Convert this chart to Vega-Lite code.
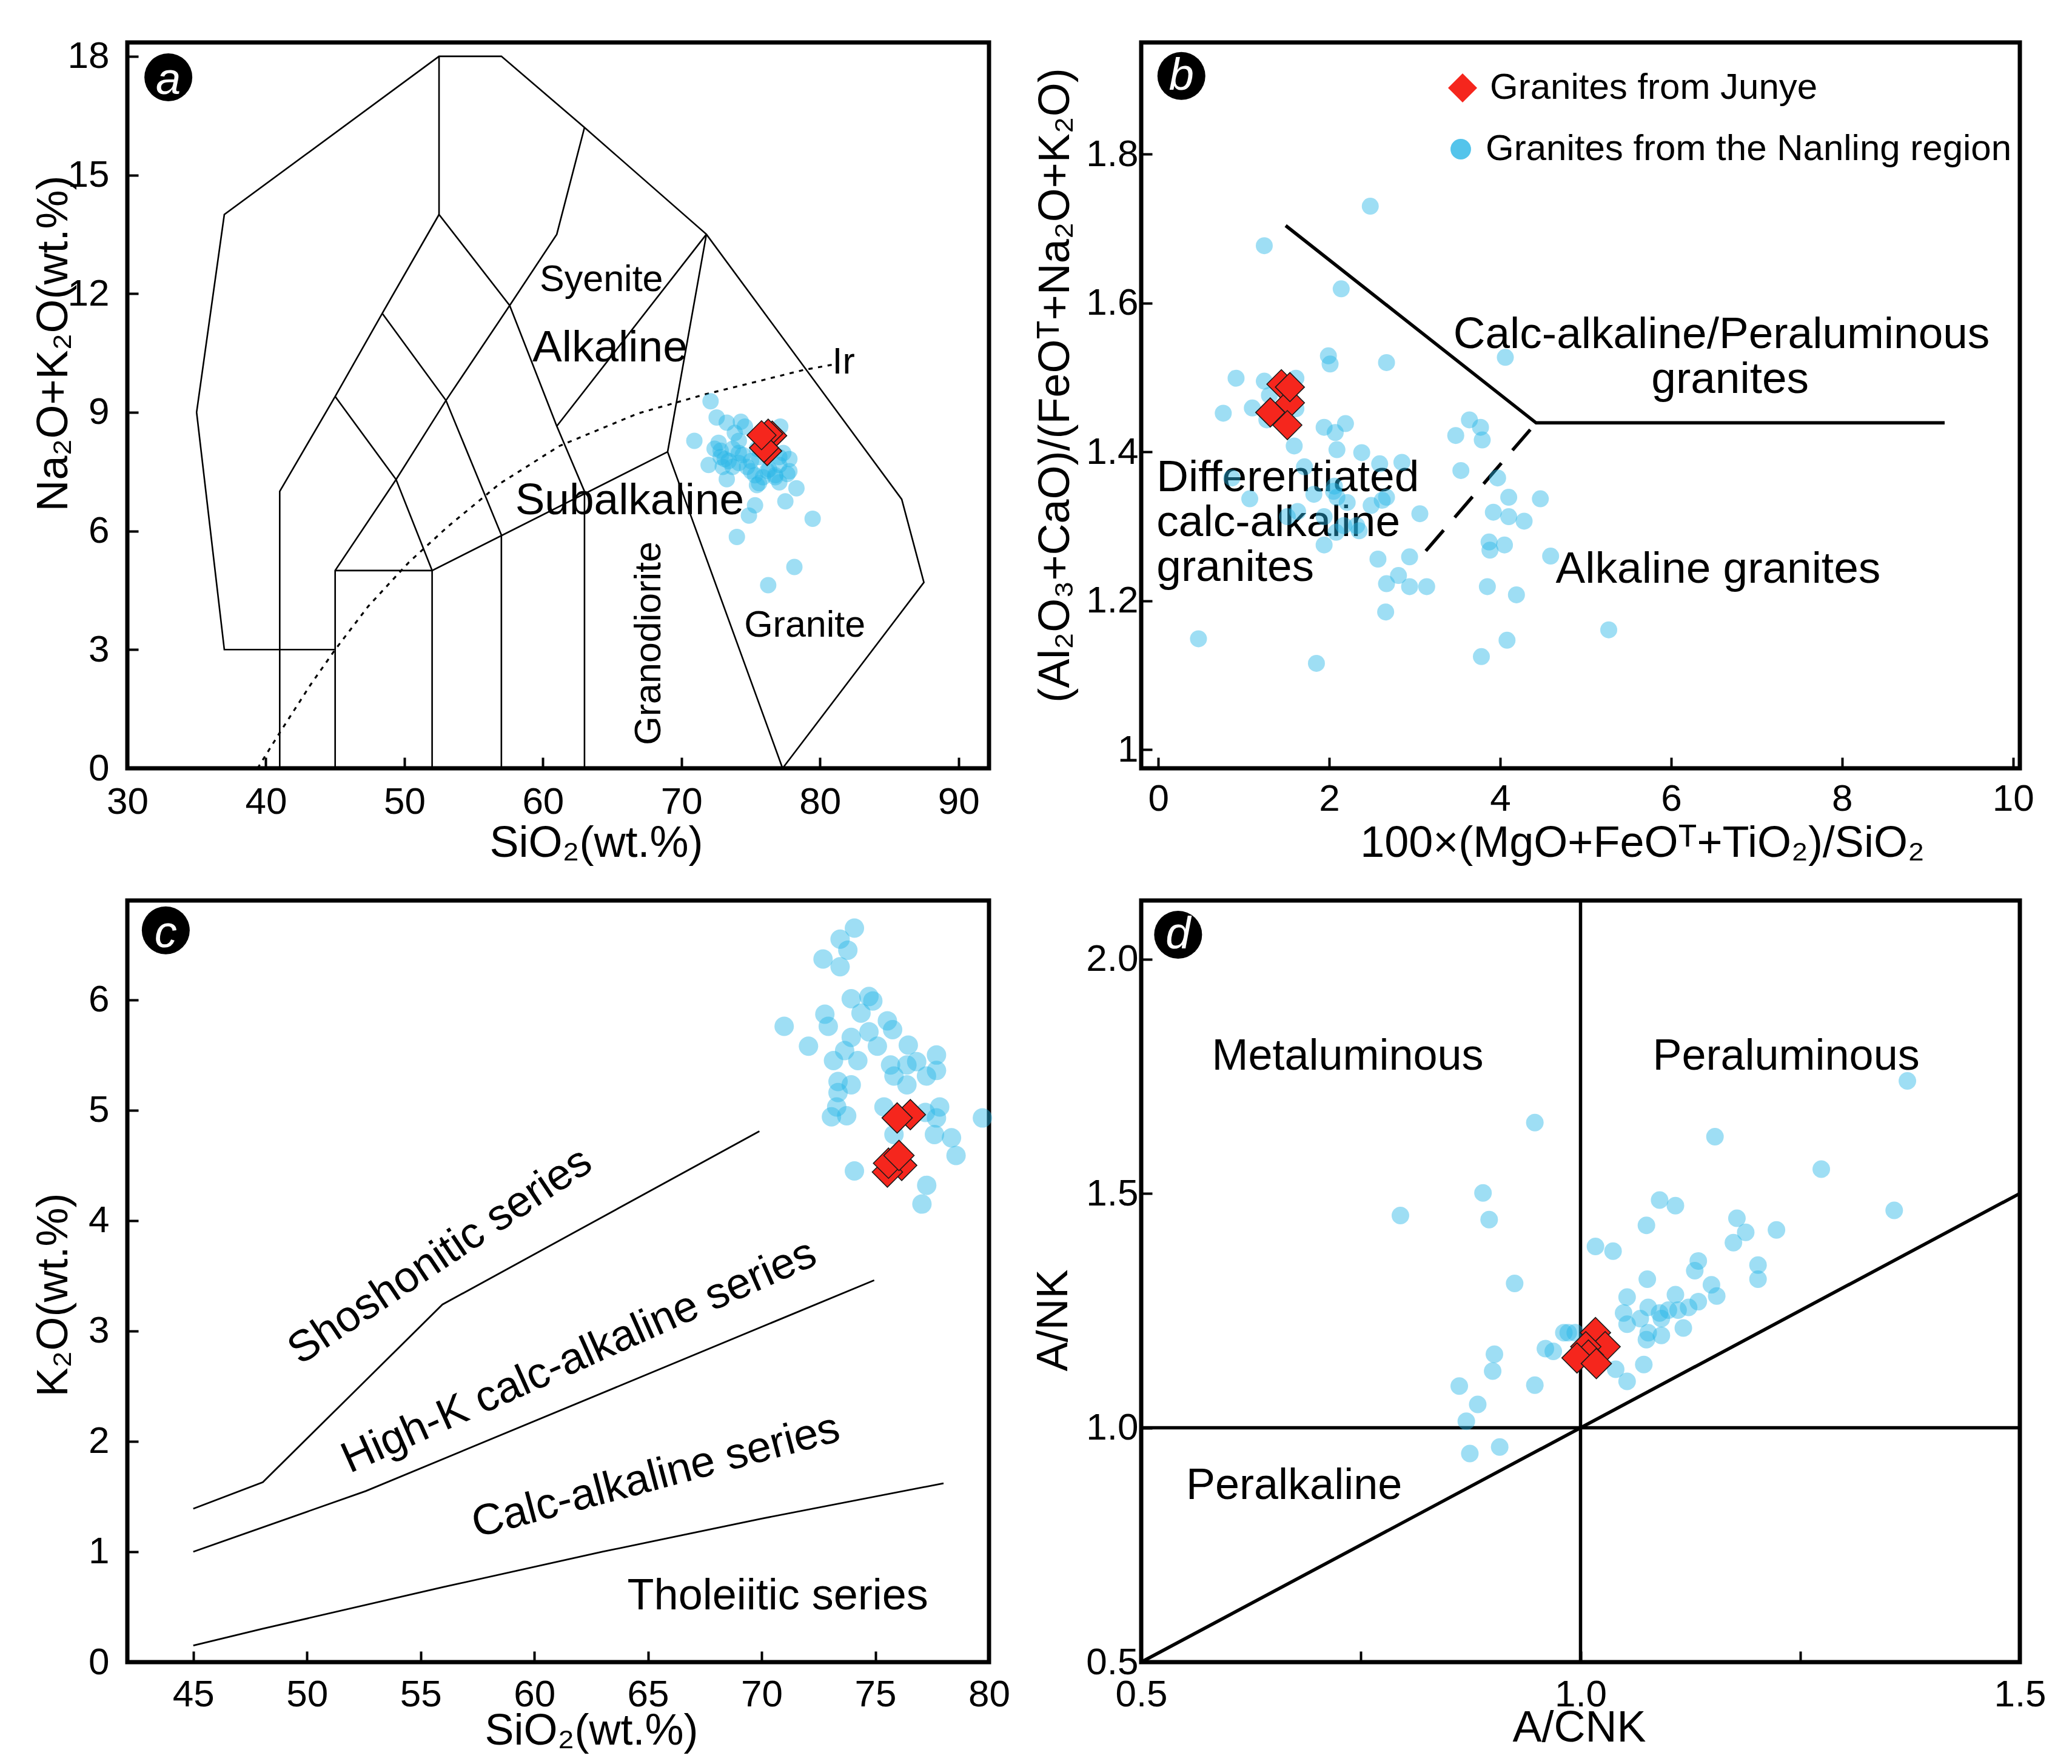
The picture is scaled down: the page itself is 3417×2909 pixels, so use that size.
{
"$schema": "https://vega.github.io/schema/vega-lite/v6.json",
"background": "white",
"padding": {"left": 48, "top": 58, "right": 10, "bottom": 10},
"columns": 2,
"bounds": "flush",
"spacing": {"row": 218, "column": 251},
"resolve": {"scale": {"x": "independent", "y": "independent", "fill": "independent", "shape": "independent"}},
"config": {
  "view": {"stroke": "black", "strokeWidth": 7, "fill": "white"},
  "axis": {"domain": false, "grid": false, "tickSize": -18, "tickWidth": 4, "tickColor": "black",
    "labelFont": "Liberation Sans", "labelFontSize": 62, "labelColor": "black", "labelFlush": false, "labelOverlap": false, "labelBound": false,
    "titleFont": "Liberation Sans", "titleFontSize": 72, "titleFontWeight": "normal", "titleColor": "black", "titleBaseline": "alphabetic"},
  "text": {"font": "Liberation Sans", "color": "black"}
},
"datasets": {
  "a_lines": [
    {"seg":1,"o":1,"x":45,"y":3},{"seg":1,"o":2,"x":37,"y":3},{"seg":1,"o":3,"x":35,"y":9},{"seg":1,"o":4,"x":37,"y":14},{"seg":1,"o":5,"x":52.5,"y":18},{"seg":1,"o":6,"x":57,"y":18},{"seg":1,"o":7,"x":63,"y":16.2},{"seg":1,"o":8,"x":71.8,"y":13.5},{"seg":1,"o":9,"x":85.9,"y":6.8},{"seg":1,"o":10,"x":87.5,"y":4.7},{"seg":1,"o":11,"x":77.3,"y":0},
    {"seg":2,"o":1,"x":52.5,"y":18},{"seg":2,"o":2,"x":52.5,"y":14},{"seg":2,"o":3,"x":57.6,"y":11.7},{"seg":2,"o":4,"x":61,"y":13.5},{"seg":2,"o":5,"x":63,"y":16.2},
    {"seg":3,"o":1,"x":57.6,"y":11.7},{"seg":3,"o":2,"x":61,"y":8.65},{"seg":3,"o":3,"x":63,"y":7},
    {"seg":4,"o":1,"x":61,"y":8.65},{"seg":4,"o":2,"x":71.8,"y":13.5},
    {"seg":5,"o":1,"x":71.8,"y":13.5},{"seg":5,"o":2,"x":69,"y":8},{"seg":5,"o":3,"x":77.3,"y":0},
    {"seg":6,"o":1,"x":41,"y":0},{"seg":6,"o":2,"x":41,"y":7},{"seg":6,"o":3,"x":45,"y":9.4},{"seg":6,"o":4,"x":48.4,"y":11.5},{"seg":6,"o":5,"x":52.5,"y":14},
    {"seg":7,"o":1,"x":45,"y":0},{"seg":7,"o":2,"x":45,"y":5},{"seg":7,"o":3,"x":49.4,"y":7.3},{"seg":7,"o":4,"x":53,"y":9.3},{"seg":7,"o":5,"x":57.6,"y":11.7},
    {"seg":8,"o":1,"x":45,"y":5},{"seg":8,"o":2,"x":52,"y":5},{"seg":8,"o":3,"x":69,"y":8},
    {"seg":9,"o":1,"x":45,"y":9.4},{"seg":9,"o":2,"x":49.4,"y":7.3},{"seg":9,"o":3,"x":52,"y":5},{"seg":9,"o":4,"x":52,"y":0},
    {"seg":10,"o":1,"x":48.4,"y":11.5},{"seg":10,"o":2,"x":53,"y":9.3},{"seg":10,"o":3,"x":57,"y":5.9},{"seg":10,"o":4,"x":57,"y":0},
    {"seg":11,"o":1,"x":63,"y":7},{"seg":11,"o":2,"x":63,"y":0}
  ],
  "a_ir": [
    {"o":1,"x":39.4,"y":0},{"o":2,"x":41,"y":0.9},{"o":3,"x":43.2,"y":2.1},{"o":4,"x":45,"y":3.0},{"o":5,"x":47.4,"y":4.1},{"o":6,"x":50.3,"y":5.2},{"o":7,"x":53.1,"y":6.1},{"o":8,"x":56.9,"y":7.2},{"o":9,"x":61.2,"y":8.15},{"o":10,"x":66.85,"y":8.97},{"o":11,"x":71.66,"y":9.45},{"o":12,"x":75.6,"y":9.79},{"o":13,"x":78.8,"y":10.07},{"o":14,"x":80.85,"y":10.2}
  ],
  "a_text61": [{"t":"Syenite","x":64.22,"y":12.34},{"t":"Granite","x":78.9,"y":3.6},{"t":"Ir","x":81.7,"y":10.25}],
  "a_text73": [{"t":"Alkaline","x":64.84,"y":10.62},{"t":"Subalkaline","x":66.26,"y":6.76}],
  "a_textv": [{"t":"Granodiorite","x":67.68,"y":3.16}],
  "a_nanling": [
    {"x":72.1,"y":9.28},{"x":72.54,"y":8.87},{"x":73.27,"y":8.74},{"x":74.29,"y":8.76},{"x":74.58,"y":8.64},{"x":77.13,"y":8.64},{"x":70.93,"y":8.28},{"x":72.68,"y":8.23},{"x":73.7,"y":8.08},{"x":74.14,"y":8.28},{"x":72.83,"y":8.03},{"x":73.41,"y":7.77},{"x":71.96,"y":7.67},{"x":72.98,"y":7.62},{"x":74.14,"y":7.72},{"x":75.02,"y":7.77},{"x":77.06,"y":7.87},{"x":77.79,"y":7.82},{"x":73.27,"y":7.31},{"x":75.6,"y":7.21},{"x":75.31,"y":7.41},{"x":76.77,"y":7.41},{"x":77.64,"y":7.44},{"x":76.19,"y":7.52},{"x":78.3,"y":7.08},{"x":77.5,"y":6.75},{"x":75.31,"y":6.65},{"x":74.87,"y":6.39},{"x":79.47,"y":6.31},{"x":74.0,"y":5.85},{"x":78.15,"y":5.09},{"x":76.26,"y":4.63},{"x":73.85,"y":8.48},{"x":75.6,"y":7.87},{"x":76.33,"y":7.56},{"x":74.43,"y":7.92},{"x":72.39,"y":8.08},{"x":73.7,"y":7.62},{"x":74.73,"y":7.62},{"x":75.89,"y":7.36},{"x":77.06,"y":7.67},{"x":76.77,"y":7.36},{"x":75.02,"y":7.51},{"x":73.12,"y":7.82},{"x":77.35,"y":7.97},{"x":75.45,"y":8.08},{"x":74.14,"y":7.97},{"x":72.83,"y":7.87},{"x":77.79,"y":7.51},{"x":77.06,"y":7.23},{"x":75.45,"y":7.16}
  ],
  "a_junye": [{"x":76.55,"y":8.41},{"x":76.26,"y":8.46},{"x":76.19,"y":8.02},{"x":75.96,"y":8.10},{"x":75.78,"y":8.42}],
  "a_tag": [{"t":"a","x":32.96,"y":17.47}],
  "b_solid": [{"x":1.49,"y":1.704},{"x":4.42,"y":1.439},{"x":9.2,"y":1.439}],
  "b_dash": [{"x":3.13,"y":1.267},{"x":4.42,"y":1.439}],
  "b_textc": [{"t":"Calc-alkaline/Peraluminous","x":6.59,"y":1.557},{"t":"granites","x":6.69,"y":1.497}],
  "b_textl": [{"t":"Differentiated","x":-0.02,"y":1.365},{"t":"calc-alkaline","x":-0.02,"y":1.305},{"t":"granites","x":-0.02,"y":1.245},{"t":"Alkaline granites","x":4.65,"y":1.242}],
  "b_nanling": [
    {"x":2.48,"y":1.730},{"x":1.24,"y":1.677},{"x":2.14,"y":1.619},{"x":4.06,"y":1.527},{"x":1.99,"y":1.529},{"x":2.01,"y":1.518},{"x":2.67,"y":1.520},{"x":0.91,"y":1.499},{"x":1.24,"y":1.495},{"x":1.61,"y":1.499},{"x":0.76,"y":1.452},{"x":1.10,"y":1.459},{"x":1.94,"y":1.433},{"x":2.07,"y":1.426},{"x":2.19,"y":1.438},{"x":1.59,"y":1.408},{"x":2.09,"y":1.403},{"x":2.38,"y":1.399},{"x":2.59,"y":1.384},{"x":2.85,"y":1.386},{"x":1.71,"y":1.380},{"x":0.86,"y":1.365},{"x":1.07,"y":1.337},{"x":1.82,"y":1.343},{"x":2.05,"y":1.347},{"x":2.09,"y":1.339},{"x":2.21,"y":1.332},{"x":2.49,"y":1.328},{"x":2.67,"y":1.339},{"x":2.62,"y":1.335},{"x":3.06,"y":1.317},{"x":1.63,"y":1.320},{"x":1.94,"y":1.313},{"x":2.17,"y":1.301},{"x":2.32,"y":1.301},{"x":1.51,"y":1.313},{"x":1.94,"y":1.275},{"x":2.57,"y":1.256},{"x":2.94,"y":1.259},{"x":2.81,"y":1.234},{"x":2.67,"y":1.223},{"x":2.94,"y":1.219},{"x":3.14,"y":1.219},{"x":2.66,"y":1.185},{"x":3.48,"y":1.422},{"x":3.64,"y":1.443},{"x":3.77,"y":1.433},{"x":3.79,"y":1.416},{"x":3.54,"y":1.375},{"x":3.97,"y":1.365},{"x":4.10,"y":1.339},{"x":4.47,"y":1.337},{"x":3.92,"y":1.319},{"x":4.10,"y":1.313},{"x":4.28,"y":1.307},{"x":3.87,"y":1.279},{"x":4.05,"y":1.275},{"x":3.88,"y":1.268},{"x":4.59,"y":1.260},{"x":3.85,"y":1.219},{"x":4.19,"y":1.208},{"x":4.08,"y":1.147},{"x":3.78,"y":1.125},{"x":5.27,"y":1.161},{"x":0.47,"y":1.149},{"x":1.85,"y":1.116},{"x":1.30,"y":1.476},{"x":1.61,"y":1.458},{"x":1.27,"y":1.443},{"x":2.06,"y":1.354},{"x":2.08,"y":1.292},{"x":2.35,"y":1.294}
  ],
  "b_junye": [{"x":1.44,"y":1.491},{"x":1.54,"y":1.466},{"x":1.54,"y":1.487},{"x":1.31,"y":1.453},{"x":1.51,"y":1.436}],
  "b_tag": [{"t":"b","x":0.27,"y":1.905}],
  "c_lines": [
    {"seg":1,"o":1,"x":45,"y":1.39},{"seg":1,"o":2,"x":48.06,"y":1.63},{"seg":1,"o":3,"x":55.96,"y":3.24},{"seg":1,"o":4,"x":69.9,"y":4.81},
    {"seg":2,"o":1,"x":45,"y":1.0},{"seg":2,"o":2,"x":52.59,"y":1.55},{"seg":2,"o":3,"x":74.95,"y":3.46},
    {"seg":3,"o":1,"x":45,"y":0.15},{"seg":3,"o":2,"x":48,"y":0.3},{"seg":3,"o":3,"x":56,"y":0.68},{"seg":3,"o":4,"x":63,"y":1.0},{"seg":3,"o":5,"x":70,"y":1.3},{"seg":3,"o":6,"x":78,"y":1.62}
  ],
  "c_t1": [{"t":"Shoshonitic series","x":55.85,"y":3.68}],
  "c_t2": [{"t":"High-K calc-alkaline series","x":61.96,"y":2.77}],
  "c_t3": [{"t":"Calc-alkaline series","x":65.34,"y":1.685}],
  "c_t4": [{"t":"Tholeiitic series","x":70.71,"y":0.60}],
  "c_nanling": [
    {"x":74.08,"y":6.65},{"x":73.45,"y":6.55},{"x":73.79,"y":6.45},{"x":72.70,"y":6.37},{"x":73.45,"y":6.30},{"x":74.72,"y":6.03},{"x":74.89,"y":5.99},{"x":73.94,"y":6.01},{"x":74.37,"y":5.88},{"x":72.78,"y":5.87},{"x":72.93,"y":5.76},{"x":70.99,"y":5.76},{"x":73.94,"y":5.66},{"x":74.72,"y":5.71},{"x":75.53,"y":5.81},{"x":75.76,"y":5.73},{"x":72.06,"y":5.58},{"x":75.09,"y":5.58},{"x":73.65,"y":5.54},{"x":73.16,"y":5.45},{"x":74.23,"y":5.45},{"x":76.45,"y":5.59},{"x":77.69,"y":5.50},{"x":75.67,"y":5.41},{"x":76.39,"y":5.41},{"x":76.82,"y":5.44},{"x":75.82,"y":5.31},{"x":77.25,"y":5.31},{"x":77.69,"y":5.36},{"x":73.36,"y":5.26},{"x":73.94,"y":5.23},{"x":76.39,"y":5.23},{"x":73.36,"y":5.16},{"x":73.30,"y":5.03},{"x":75.38,"y":5.03},{"x":73.07,"y":4.94},{"x":73.74,"y":4.95},{"x":77.2,"y":4.98},{"x":77.83,"y":5.03},{"x":77.69,"y":4.93},{"x":79.71,"y":4.93},{"x":75.82,"y":4.78},{"x":77.6,"y":4.78},{"x":78.35,"y":4.75},{"x":78.55,"y":4.59},{"x":74.08,"y":4.45},{"x":77.26,"y":4.32},{"x":77.05,"y":4.15}
  ],
  "c_junye": [{"x":76.54,"y":4.96},{"x":75.96,"y":4.93},{"x":76.16,"y":4.50},{"x":75.53,"y":4.44},{"x":75.58,"y":4.52},{"x":76.04,"y":4.59}],
  "c_tag": [{"t":"c","x":43.79,"y":6.63}],
  "d_rules": [{"x":1,"y":0.5,"x2":1,"y2":2.125},{"x":0.5,"y":1,"x2":1.5,"y2":1},{"x":0.5,"y":0.5,"x2":1.5,"y2":1.5}],
  "d_text": [{"t":"Metaluminous","x":0.735,"y":1.792},{"t":"Peraluminous","x":1.234,"y":1.792},{"t":"Peralkaline","x":0.674,"y":0.876}],
  "d_nanling": [
    {"x":1.372,"y":1.740},{"x":0.948,"y":1.651},{"x":1.153,"y":1.621},{"x":1.274,"y":1.552},{"x":0.889,"y":1.501},{"x":1.357,"y":1.464},{"x":0.795,"y":1.453},{"x":0.896,"y":1.444},{"x":1.090,"y":1.486},{"x":1.108,"y":1.474},{"x":1.075,"y":1.432},{"x":1.178,"y":1.447},{"x":1.223,"y":1.422},{"x":1.188,"y":1.417},{"x":1.174,"y":1.395},{"x":1.017,"y":1.387},{"x":1.037,"y":1.377},{"x":1.134,"y":1.356},{"x":1.130,"y":1.335},{"x":1.202,"y":1.347},{"x":1.202,"y":1.317},{"x":0.925,"y":1.308},{"x":1.076,"y":1.317},{"x":1.149,"y":1.305},{"x":1.155,"y":1.281},{"x":1.108,"y":1.284},{"x":1.053,"y":1.279},{"x":1.077,"y":1.257},{"x":1.134,"y":1.269},{"x":1.123,"y":1.257},{"x":1.100,"y":1.251},{"x":1.090,"y":1.245},{"x":1.049,"y":1.245},{"x":1.111,"y":1.251},{"x":1.092,"y":1.233},{"x":1.068,"y":1.233},{"x":1.053,"y":1.221},{"x":1.117,"y":1.213},{"x":1.077,"y":1.203},{"x":1.092,"y":1.197},{"x":1.075,"y":1.188},{"x":0.981,"y":1.203},{"x":0.986,"y":1.203},{"x":0.994,"y":1.203},{"x":0.960,"y":1.169},{"x":0.969,"y":1.163},{"x":0.902,"y":1.157},{"x":0.900,"y":1.121},{"x":0.948,"y":1.091},{"x":1.072,"y":1.135},{"x":1.040,"y":1.125},{"x":1.053,"y":1.099},{"x":0.862,"y":1.089},{"x":0.883,"y":1.050},{"x":0.870,"y":1.014},{"x":0.908,"y":0.959},{"x":0.874,"y":0.945}
  ],
  "d_junye": [{"x":1.017,"y":1.203},{"x":1.028,"y":1.173},{"x":1.006,"y":1.173},{"x":1.009,"y":1.155},{"x":0.996,"y":1.149},{"x":1.018,"y":1.137}],
  "d_tag": [{"t":"d","x":0.542,"y":2.052}]
},
"concat": [
  {
    "width": 1421, "height": 1197,
    "encoding": {
      "x": {"field": "x", "type": "quantitative", "scale": {"domain": [30, 92.2], "nice": false, "zero": false},
        "axis": {"title": "SiO₂(wt.%)", "values": [30,40,50,60,70,80,90], "format": "d", "labelPadding": 43, "titleX": 773, "titleY": 145}},
      "y": {"field": "y", "type": "quantitative", "scale": {"domain": [0, 18.35], "nice": false, "zero": false},
        "axis": {"title": "Na₂O+K₂O(wt.%)", "values": [0,3,6,9,12,15,18], "format": "d", "labelPadding": 48, "titleX": -100, "titleY": 496}}
    },
    "layer": [
      {"data": {"name": "a_lines"}, "mark": {"type": "line", "color": "black", "strokeWidth": 2.6}, "encoding": {"detail": {"field": "seg", "type": "nominal"}, "order": {"field": "o", "type": "quantitative"}}},
      {"data": {"name": "a_ir"}, "mark": {"type": "line", "color": "black", "strokeWidth": 3.2, "strokeDash": [7, 9]}, "encoding": {"order": {"field": "o", "type": "quantitative"}}},
      {"data": {"name": "a_text61"}, "mark": {"type": "text", "fontSize": 61, "align": "center", "baseline": "middle"}, "encoding": {"text": {"field": "t", "type": "nominal"}}},
      {"data": {"name": "a_text73"}, "mark": {"type": "text", "fontSize": 73, "align": "center", "baseline": "middle"}, "encoding": {"text": {"field": "t", "type": "nominal"}}},
      {"data": {"name": "a_textv"}, "mark": {"type": "text", "fontSize": 61, "align": "center", "baseline": "middle", "angle": 270}, "encoding": {"text": {"field": "t", "type": "nominal"}}},
      {"data": {"name": "a_nanling"}, "mark": {"type": "point", "shape": "circle", "filled": true, "fill": "#29b5e6", "opacity": 0.45, "size": 729, "strokeWidth": 0}},
      {"data": {"name": "a_junye"}, "mark": {"type": "point", "shape": "diamond", "filled": true, "fill": "#f5261d", "stroke": "#1a1a1a", "strokeWidth": 1.6, "opacity": 1, "size": 2300}},
      {"data": {"name": "a_tag"}, "mark": {"type": "point", "shape": "circle", "filled": true, "fill": "black", "opacity": 1, "size": 6241, "strokeWidth": 0}},
      {"data": {"name": "a_tag"}, "mark": {"type": "text", "fontSize": 74, "fontStyle": "italic", "color": "white", "align": "center", "baseline": "middle", "dy": 6}, "encoding": {"text": {"field": "t", "type": "nominal"}}}
    ]
  },
  {
    "width": 1449, "height": 1197,
    "encoding": {
      "x": {"field": "x", "type": "quantitative", "scale": {"domain": [-0.2, 10.08], "nice": false, "zero": false},
        "axis": {"title": "100×(MgO+FeOᵀ+TiO₂)/SiO₂", "values": [0,2,4,6,8,10], "format": "d", "labelPadding": 38, "titleX": 826, "titleY": 145}},
      "y": {"field": "y", "type": "quantitative", "scale": {"domain": [0.975, 1.95], "nice": false, "zero": false},
        "axis": {"title": "(Al₂O₃+CaO)/(FeOᵀ+Na₂O+K₂O)", "values": [1,1.2,1.4,1.6,1.8], "format": "~g", "labelPadding": 23, "titleX": -120, "titleY": 565}}
    },
    "layer": [
      {"data": {"name": "b_solid"}, "mark": {"type": "line", "color": "black", "strokeWidth": 5.5}},
      {"data": {"name": "b_dash"}, "mark": {"type": "line", "color": "black", "strokeWidth": 5.5, "strokeDash": [45, 28]}},
      {"data": {"name": "b_textc"}, "mark": {"type": "text", "fontSize": 73, "align": "center", "baseline": "middle"}, "encoding": {"text": {"field": "t", "type": "nominal"}}},
      {"data": {"name": "b_textl"}, "mark": {"type": "text", "fontSize": 73, "align": "left", "baseline": "middle"}, "encoding": {"text": {"field": "t", "type": "nominal"}}},
      {"data": {"name": "b_nanling"}, "mark": {"type": "point", "shape": "circle", "filled": true, "opacity": 0.45, "size": 784, "strokeWidth": 0},
        "encoding": {
          "fill": {"datum": "Granites from the Nanling region", "type": "nominal", "scale": {"domain": ["Granites from the Nanling region"], "range": ["#29b5e6"]},
            "legend": {"title": null, "orient": "none", "legendX": 497, "legendY": 146, "direction": "vertical", "padding": 0, "labelFont": "Liberation Sans", "labelFontSize": 60, "labelColor": "black", "labelLimit": 0, "labelOffset": 11, "symbolType": "circle", "symbolSize": 1150, "symbolOpacity": 0.8, "symbolStrokeWidth": 0}}
        }},
      {"data": {"name": "b_junye"}, "mark": {"type": "point", "filled": true, "fill": "#f5261d", "stroke": "#1a1a1a", "strokeWidth": 1.6, "opacity": 1, "size": 2300},
        "encoding": {
          "shape": {"datum": "Granites from Junye", "type": "nominal", "scale": {"domain": ["Granites from Junye"], "range": ["diamond"]},
            "legend": {"title": null, "orient": "none", "legendX": 500, "legendY": 45, "direction": "vertical", "padding": 0, "labelFont": "Liberation Sans", "labelFontSize": 60, "labelColor": "black", "labelLimit": 0, "labelOffset": 15, "symbolSize": 2300, "symbolOpacity": 1, "symbolFillColor": "#f5261d", "symbolStrokeColor": "#1a1a1a", "symbolStrokeWidth": 1.6}}
        }},
      {"data": {"name": "b_tag"}, "mark": {"type": "point", "shape": "circle", "filled": true, "fill": "black", "opacity": 1, "size": 6241, "strokeWidth": 0}},
      {"data": {"name": "b_tag"}, "mark": {"type": "text", "fontSize": 74, "fontStyle": "italic", "color": "white", "align": "center", "baseline": "middle", "dy": 1}, "encoding": {"text": {"field": "t", "type": "nominal"}}}
    ]
  },
  {
    "width": 1421, "height": 1256,
    "encoding": {
      "x": {"field": "x", "type": "quantitative", "scale": {"domain": [42.1, 80], "nice": false, "zero": false},
        "axis": {"title": "SiO₂(wt.%)", "values": [45,50,55,60,65,70,75,80], "format": "d", "labelPadding": 41, "titleX": 765, "titleY": 135}},
      "y": {"field": "y", "type": "quantitative", "scale": {"domain": [0, 6.9], "nice": false, "zero": false},
        "axis": {"title": "K₂O(wt.%)", "values": [0,1,2,3,4,5,6], "format": "d", "labelPadding": 48, "titleX": -100, "titleY": 650}}
    },
    "layer": [
      {"data": {"name": "c_lines"}, "mark": {"type": "line", "color": "black", "strokeWidth": 2.8}, "encoding": {"detail": {"field": "seg", "type": "nominal"}, "order": {"field": "o", "type": "quantitative"}}},
      {"data": {"name": "c_t1"}, "mark": {"type": "text", "fontSize": 72, "align": "center", "baseline": "middle", "angle": -33.8}, "encoding": {"text": {"field": "t", "type": "nominal"}}},
      {"data": {"name": "c_t2"}, "mark": {"type": "text", "fontSize": 72, "align": "center", "baseline": "middle", "angle": -24.1}, "encoding": {"text": {"field": "t", "type": "nominal"}}},
      {"data": {"name": "c_t3"}, "mark": {"type": "text", "fontSize": 72, "align": "center", "baseline": "middle", "angle": -14.9}, "encoding": {"text": {"field": "t", "type": "nominal"}}},
      {"data": {"name": "c_t4"}, "mark": {"type": "text", "fontSize": 72, "align": "center", "baseline": "middle"}, "encoding": {"text": {"field": "t", "type": "nominal"}}},
      {"data": {"name": "c_nanling"}, "mark": {"type": "point", "shape": "circle", "filled": true, "fill": "#29b5e6", "opacity": 0.45, "size": 1024, "strokeWidth": 0}},
      {"data": {"name": "c_junye"}, "mark": {"type": "point", "shape": "diamond", "filled": true, "fill": "#f5261d", "stroke": "#1a1a1a", "strokeWidth": 1.6, "opacity": 1, "size": 2500}},
      {"data": {"name": "c_tag"}, "mark": {"type": "point", "shape": "circle", "filled": true, "fill": "black", "opacity": 1, "size": 6241, "strokeWidth": 0}},
      {"data": {"name": "c_tag"}, "mark": {"type": "text", "fontSize": 74, "fontStyle": "italic", "color": "white", "align": "center", "baseline": "middle", "dy": 6}, "encoding": {"text": {"field": "t", "type": "nominal"}}}
    ]
  },
  {
    "width": 1449, "height": 1256,
    "encoding": {
      "x": {"field": "x", "type": "quantitative", "scale": {"domain": [0.5, 1.5], "nice": false, "zero": false},
        "axis": {"title": "A/CNK", "values": [0.5,0.75,1,1.25,1.5], "labelExpr": "datum.value == 0.75 || datum.value == 1.25 ? '' : format(datum.value, '.1f')", "labelPadding": 41, "titleX": 722, "titleY": 130}},
      "y": {"field": "y", "type": "quantitative", "scale": {"domain": [0.5, 2.125], "nice": false, "zero": false},
        "axis": {"title": "A/NK", "values": [0.5,1,1.5,2], "format": ".1f", "labelPadding": 23, "titleX": -123, "titleY": 692}}
    },
    "layer": [
      {"data": {"name": "d_rules"}, "mark": {"type": "rule", "color": "black", "strokeWidth": 5.5}, "encoding": {"x2": {"field": "x2"}, "y2": {"field": "y2"}}},
      {"data": {"name": "d_text"}, "mark": {"type": "text", "fontSize": 72, "align": "center", "baseline": "middle"}, "encoding": {"text": {"field": "t", "type": "nominal"}}},
      {"data": {"name": "d_nanling"}, "mark": {"type": "point", "shape": "circle", "filled": true, "fill": "#29b5e6", "opacity": 0.45, "size": 841, "strokeWidth": 0}},
      {"data": {"name": "d_junye"}, "mark": {"type": "point", "shape": "diamond", "filled": true, "fill": "#f5261d", "stroke": "#1a1a1a", "strokeWidth": 1.6, "opacity": 1, "size": 2500}},
      {"data": {"name": "d_tag"}, "mark": {"type": "point", "shape": "circle", "filled": true, "fill": "black", "opacity": 1, "size": 6241, "strokeWidth": 0}},
      {"data": {"name": "d_tag"}, "mark": {"type": "text", "fontSize": 74, "fontStyle": "italic", "color": "white", "align": "center", "baseline": "middle", "dy": 1}, "encoding": {"text": {"field": "t", "type": "nominal"}}}
    ]
  }
]
}
